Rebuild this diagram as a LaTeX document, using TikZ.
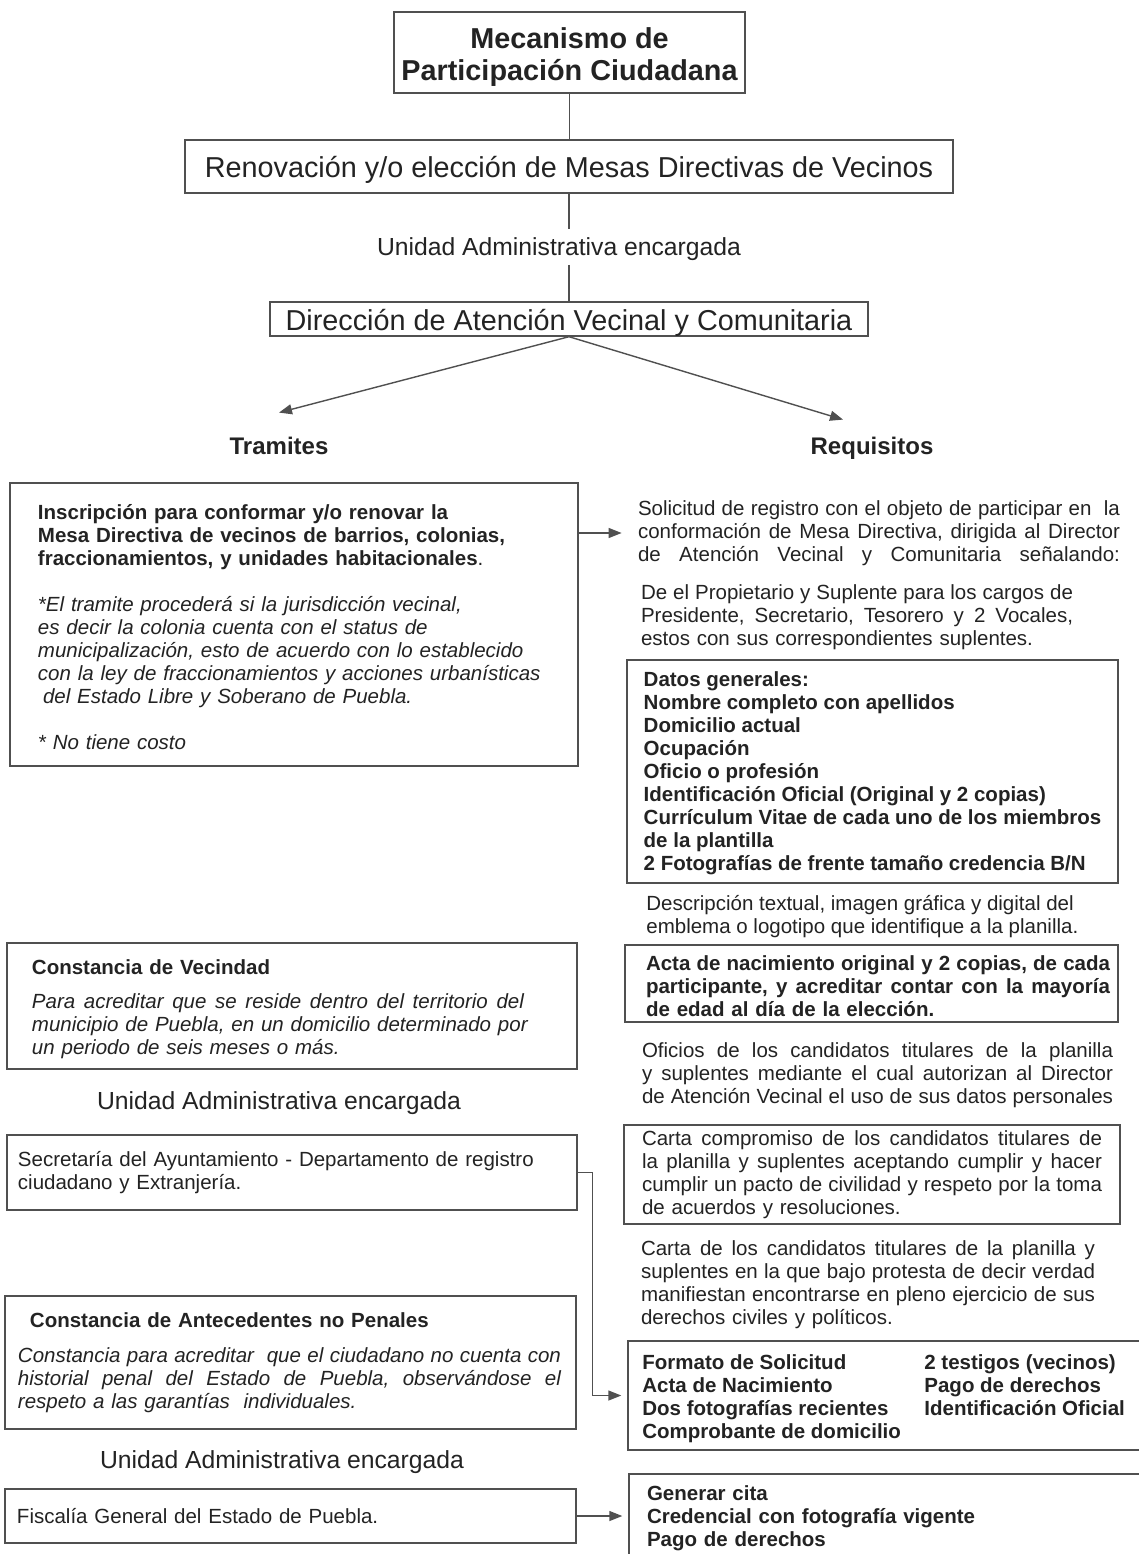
\documentclass[tikz,border=0pt]{standalone}
\usepackage{fontspec}
\setmainfont{Liberation Sans}
\usepackage{tikz}
\usetikzlibrary{arrows.meta, positioning, calc}
\definecolor{ink}{RGB}{35, 35, 35}
\definecolor{edge}{RGB}{80, 80, 80}
\hyphenpenalty=10000
\exhyphenpenalty=10000
\newcommand{\bodyfont}{\fontsize{10.25}{11.5}\selectfont}
\newcommand{\bodybold}{\fontsize{10.25}{11.5}\selectfont\bfseries}
\newcommand{\headfont}{\fontsize{14.4}{16}\selectfont}
\newcommand{\headbold}{\fontsize{12}{14}\selectfont\bfseries}
\newcommand{\unitfont}{\fontsize{12.35}{14}\selectfont}
% justified line of a given width
\newcommand{\jl}[2]{\makebox[#1][s]{\frenchspacing\spaceskip=0.278em plus 1fil minus 0.1em\relax #2}}
\tikzstyle{box} = [rectangle, draw=edge, line width=0.7pt, inner sep=0pt, font=\bodyfont, align=left, text=ink]
\tikzstyle{txt} = [inner sep=0pt, font=\bodyfont, align=left, text=ink]
\tikzstyle{unitlabel} = [inner sep=0pt, minimum height=17.5pt, text height=8.84pt, text depth=0pt, font=\unitfont, text=ink]
\tikzstyle{heading} = [inner sep=0pt, minimum height=33pt, text height=8.6pt, text depth=0pt, font=\headbold, text=ink]
\tikzstyle{conn} = [draw=edge, line width=0.7pt]
\tikzstyle{arrow} = [conn, -{Triangle[length=6.5pt,width=5pt]}]

\begin{document}
\begin{tikzpicture}[x=0.5pt, y=-0.5pt]
    \useasboundingbox[fill=white] (0,0) rectangle (1139,1554);

    % Top of the chart
    \node[box, minimum width=175.5pt, minimum height=40.5pt, align=center, font=\fontsize{14.4}{16}\selectfont\bfseries] (mecanismo) at (569.5,52.5) {\rule{0pt}{15pt}Mecanismo de\\Participación Ciudadana};
    \node[box, minimum width=384pt, minimum height=26.5pt, text height=10.8pt, text depth=0pt, font=\headfont] (renovacion) at (569,166.5) {Renovación y/o elección de Mesas Directivas de Vecinos};
    \node[unitlabel] (unidad) at (559,247) {Unidad Administrativa encargada};
    \node[box, minimum width=299pt, minimum height=17pt, text height=11.3pt, text depth=0pt, font=\headfont] (direccion) at (569,319) {Dirección de Atención Vecinal y Comunitaria};
    \node[heading] (tramites) at (279,446) {Tramites};
    \node[heading] (requisitos) at (872,446) {Requisitos};

    \draw[conn] (mecanismo.south) -- (mecanismo.south |- renovacion.north);
    \draw[conn] (renovacion.south) -- (renovacion.south |- unidad.north);
    \draw[conn] (renovacion.south |- unidad.south) -- (direccion.north);
    \draw[arrow] (direccion.south) -- (tramites.north);
    \draw[arrow] (direccion.south) -- ($(requisitos.north)+(-29,7)$);

    % Tramites
    \node[box, minimum width=284pt, minimum height=141.5pt, text width=256pt] (inscripcion) at (294,624.5) {
        \rule{0pt}{10.5pt}\textbf{Inscripción para conformar y/o renovar la}\\
        \textbf{Mesa Directiva de vecinos de barrios, colonias,}\\
        \textbf{fraccionamientos, y unidades habitacionales}.\\[11.5pt]
        \itshape *El tramite procederá si la jurisdicción vecinal,\\
        es decir la colonia cuenta con el status de\\
        municipalización, esto de acuerdo con lo establecido\\
        con la ley de fraccionamientos y acciones urbanísticas\\
        \hspace*{2.5pt}del Estado Libre y Soberano de Puebla.\\[11.5pt]
        * No tiene costo
    };
    \node[box, minimum width=285pt, minimum height=63pt, text width=260pt] (vecindad) at (292,1006) {
        \rule{0pt}{10.5pt}\textbf{Constancia de Vecindad}\\[5.5pt]
        \itshape \jl{246pt}{Para acreditar que se reside dentro del territorio del}\\
        municipio de Puebla, en un domicilio determinado por\\
        un periodo de seis meses o más.
    };
    \node[unitlabel] (unidadvec) at (279,1101) {Unidad Administrativa encargada};
    \node[box, minimum width=285pt, minimum height=37.5pt, text width=274pt] (secretaria) at (292,1172.5) {
        Secretaría del Ayuntamiento - Departamento de registro\\
        ciudadano y Extranjería.
    };
    \node[box, minimum width=285.5pt, minimum height=66.5pt, text width=272.5pt] (antecedentes) at (290.5,1362.5) {
        \hspace*{6pt}\textbf{Constancia de Antecedentes no Penales}\\[6pt]
        \itshape \jl{271.5pt}{Constancia para acreditar\ \ que el ciudadano no cuenta con}\\
        \jl{271.5pt}{historial penal del Estado de Puebla, observándose el}\\
        respeto a las garantías\ \ individuales.
    };
    \node[unitlabel] (unidadpen) at (282,1460) {Unidad Administrativa encargada};
    \node[box, minimum width=285.5pt, minimum height=27pt, text width=273.5pt] (fiscalia) at (290.5,1516) {Fiscalía General del Estado de Puebla.};

    % Requisitos
    \node[txt, text width=241pt] (solicitud) at (879,533) {
        \jl{241pt}{Solicitud de registro con el objeto de participar en\ \ la}\\
        \jl{241pt}{conformación de Mesa Directiva, dirigida al Director}\\
        \jl{241pt}{de Atención Vecinal y Comunitaria señalando:}
    };
    \node[txt, text width=216pt] (propietario) at (857,617) {
        \jl{216pt}{De el Propietario y Suplente para los cargos de}\\
        \jl{216pt}{Presidente, Secretario, Tesorero y 2 Vocales,}\\
        estos con sus correspondientes suplentes.
    };
    \node[box, minimum width=245.5pt, minimum height=111.5pt, font=\bodybold] (datos) at (872.5,771.5) {
        \rule{0pt}{9pt}Datos generales:\\
        Nombre completo con apellidos\\
        Domicilio actual\\
        Ocupación\\
        Oficio o profesión\\
        Identificación Oficial (Original y 2 copias)\\
        Currículum Vitae de cada uno de los miembros\\
        de la plantilla\\
        2 Fotografías de frente tamaño credencia B/N
    };
    \node[txt, anchor=west] (descripcion) at (646,916.5) {
        Descripción textual, imagen gráfica y digital del\\
        emblema o logotipo que identifique a la planilla.
    };
    \node[box, minimum width=246.5pt, minimum height=38.5pt, text width=238.5pt, font=\bodybold] (acta) at (871.5,983.5) {
        \rule{0pt}{10.5pt}\hspace*{6.5pt}\jl{232pt}{Acta de nacimiento original y 2 copias, de cada}\\
        \hspace*{6.5pt}\jl{232pt}{participante, y acreditar contar con la mayoría}\\
        \hspace*{6.5pt}de edad al día de la elección.
    };
    \node[txt, text width=235.5pt] (oficios) at (877.5,1075) {
        \jl{235.5pt}{Oficios de los candidatos titulares de la planilla}\\
        \jl{235.5pt}{y suplentes mediante el cual autorizan al Director}\\
        \jl{235.5pt}{de Atención Vecinal el uso de sus datos personales}
    };
    \node[box, minimum width=248pt, minimum height=49.5pt, text width=230pt] (compromiso) at (872,1174.5) {
        \jl{230pt}{Carta compromiso de los candidatos titulares de}\\
        \jl{230pt}{la planilla y suplentes aceptando cumplir y hacer}\\
        \jl{230pt}{cumplir un pacto de civilidad y respeto por la toma}\\
        de acuerdos y resoluciones.
    };
    \node[txt, text width=227pt] (cartas) at (868,1284.5) {
        \jl{227pt}{Carta de los candidatos titulares de la planilla y}\\
        \jl{227pt}{suplentes en la que bajo protesta de decir verdad}\\
        \jl{227pt}{manifiestan encontrarse en pleno ejercicio de sus}\\
        derechos civiles y políticos.
    };
    \node[box, minimum width=258.5pt, minimum height=54.5pt, font=\bodybold] (formato) at (886.5,1395.5) {
        \begin{tabular}{@{}p{141pt}@{}l@{}}
            \rule{0pt}{12pt}Formato de Solicitud & 2 testigos (vecinos)\\
            Acta de Nacimiento & Pago de derechos\\
            Dos fotografías recientes & Identificación Oficial\\
            Comprobante de domicilio &
        \end{tabular}
    };
    \node[box, minimum width=258pt, minimum height=44pt, text width=240pt, font=\bodybold] (generar) at (887,1518) {
        Generar cita\\
        Credencial con fotografía vigente\\
        Pago de derechos
    };

    % Arrows
    \draw[arrow, shorten >=8pt] (inscripcion.east |- solicitud.west) -- (solicitud.west);
    \draw[arrow, shorten >=3pt] (secretaria.east) -- ++(15,0) |- (formato.west);
    \draw[arrow, shorten >=3pt] (fiscalia.east) -- (fiscalia.east -| generar.west);
\end{tikzpicture}
\end{document}
